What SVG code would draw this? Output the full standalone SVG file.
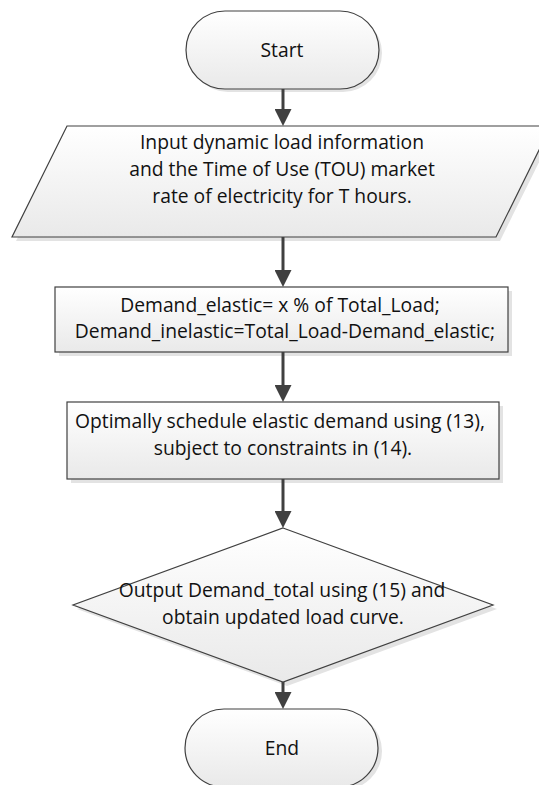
<svg xmlns="http://www.w3.org/2000/svg" width="539" height="785" viewBox="0 0 539 785">
<style>
.shape{fill:url(#g);stroke:#404040;stroke-width:1.2}
.shadow{fill:#e3e3e3}
.t{font-family:"Open Sans","Noto Sans","Liberation Sans",sans-serif;font-size:19.3px;fill:#111;text-anchor:middle}
.c{stroke:#404040;stroke-width:3;fill:none;marker-end:url(#ah)}
</style>
<defs>
<linearGradient id="g" x1="0" y1="0" x2="0" y2="1">
<stop offset="0" stop-color="#ffffff"/>
<stop offset="1" stop-color="#e9e9e9"/>
</linearGradient>
<marker id="ah" markerUnits="userSpaceOnUse" markerWidth="17" markerHeight="17" refX="2" refY="8.5" orient="auto">
<path d="M0,0 L17,8.5 L0,17 z" fill="#404040"/>
</marker>
</defs>
<rect width="539" height="785" fill="#fff"/>
<g id="start">
<rect class="shadow" x="189" y="14" width="193" height="78" rx="39"/>
<rect class="shape" x="186" y="11" width="193" height="78" rx="39"/>
<text class="t" x="282" y="57">Start</text>
</g>
<g id="input">
<polygon class="shadow" points="71,130 555,130 500,241 16,241"/>
<polygon class="shape" points="67,126 551,126 496,237 12,237"/>
<text class="t" x="282" y="149">Input dynamic load information</text>
<text class="t" x="282" y="176">and the Time of Use (TOU) market</text>
<text class="t" x="282" y="203">rate of electricity for T hours.</text>
</g>
<g id="split">
<rect class="shadow" x="59" y="291" width="453" height="65"/>
<rect class="shape" x="55" y="287" width="453" height="65"/>
<text class="t" x="280" y="312">Demand_elastic= x % of Total_Load;</text>
<text class="t" x="285" y="338">Demand_inelastic=Total_Load-Demand_elastic;</text>
</g>
<g id="optimize">
<rect class="shadow" x="71" y="406" width="432" height="77"/>
<rect class="shape" x="67" y="402" width="432" height="77"/>
<text class="t" x="280" y="428">Optimally schedule elastic demand using (13),</text>
<text class="t" x="283" y="455">subject to constraints in (14).</text>
</g>
<g id="output">
<polygon class="shadow" points="287,532 497,609 287,686 77,609"/>
<polygon class="shape" points="283,528 493,605 283,682 73,605"/>
<text class="t" x="282" y="597">Output Demand_total using (15) and</text>
<text class="t" x="283" y="624">obtain updated load curve.</text>
</g>
<g id="end">
<rect class="shadow" x="189" y="712" width="193" height="78" rx="39"/>
<rect class="shape" x="185" y="709" width="193" height="78" rx="39"/>
<text class="t" x="282" y="755">End</text>
</g>
<g id="connectors">
<line class="c" x1="283" y1="89" x2="283" y2="111"/>
<line class="c" x1="283" y1="237" x2="283" y2="272"/>
<line class="c" x1="283" y1="352" x2="283" y2="387"/>
<line class="c" x1="283" y1="479" x2="283" y2="513"/>
<line class="c" x1="283" y1="682" x2="283" y2="694"/>
</g>
</svg>
